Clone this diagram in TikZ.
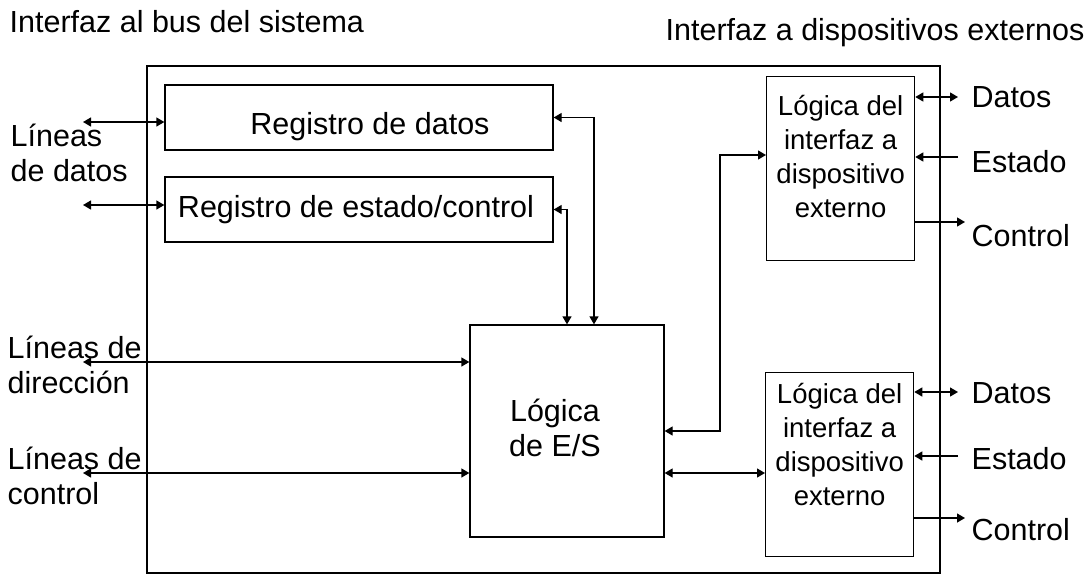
\documentclass[tikz,border=0pt]{standalone}
\usepackage{fontspec}
\setmainfont{Liberation Sans}
\usetikzlibrary{arrows.meta,positioning}

\begin{document}
\begin{tikzpicture}[
  x=1pt, y=-1pt,
  line width=1.3pt,
  >={Triangle[length=8pt,width=9pt]},
  box/.style={rectangle, draw, inner sep=0pt, align=center, font=\fontsize{30.5}{35}\selectfont},
  devbox/.style={rectangle, draw, inner sep=0pt, minimum width=148, minimum height=184},
  devtxt/.style={inner sep=0pt, anchor=north, align=center, font=\fontsize{27.5}{34}\selectfont},
  intxt/.style={inner sep=0pt, align=center, font=\fontsize{30.5}{35}\selectfont},
  lbl/.style={inner sep=0pt, anchor=west, align=left, font=\fontsize{30.5}{35}\selectfont}
]
\useasboundingbox (0,0) rectangle (1090,579);

% outer module
\node[draw, minimum width=793, minimum height=507] (iface) at (543.5,319.5) {};

% registers and E/S logic
\node[box, minimum width=388, minimum height=65,
  label={[intxt, xshift=11pt, yshift=-9pt]center:Registro de datos}] (regdat) at (359,117.5) {};
\node[box, minimum width=388, minimum height=65,
  label={[intxt, xshift=-3pt]center:Registro de estado/control}] (regest) at (359,209.5) {};
\node[box, minimum width=194, minimum height=212,
  label={[intxt, xshift=-12pt, yshift=3pt]center:Lógica\\de E/S}] (es) at (567,431) {};

% device interface logic
\node[devbox, anchor=north west,
  label={[devtxt, yshift=-19pt]north:Lógica del\\interfaz a\\dispositivo\\externo}] (devA) at (766,76) {};
\node[devbox, anchor=north west,
  label={[devtxt, yshift=-11pt]north:Lógica del\\interfaz a\\dispositivo\\externo}] (devB) at (765,372) {};

% titles
\node[lbl] (tbus) at (9,22) {Interfaz al bus del sistema};
\node[lbl] (tdev) at (665,33) {Interfaz a dispositivos externos};

% bus side labels
\node[lbl] (ldat) at (10,153) {Líneas\\de datos};
\node[lbl] (ldir) at (7,365) {Líneas de\\dirección};
\node[lbl] (lctl) at (7,476) {Líneas de\\control};

% bus side connectors
\coordinate (bdat) at (83,122);
\coordinate (best) at (83,205);
\coordinate (bdir) at (83,362);
\coordinate (bctl) at (83,473);
\draw[<->] (bdat) -- (bdat -| regdat.west);
\draw[<->] (best) -- (best -| regest.west);
\draw[<->] (bdir) -- (bdir -| es.west);
\draw[<->] (bctl) -- (bctl -| es.west);

% registers to E/S logic
\coordinate (cdat) at (594,0);
\draw[<->] (regdat.east) -| (cdat |- es.north);
\draw[<->] (regest.east) -| (es.north);

% E/S logic to devices
\coordinate (cA) at (720,155);
\coordinate (cB) at (720,473);
\draw[<->] (es.east) -| (cA) -- (cA -| devA.west);
\draw[<->] (cB -| es.east) -- (cB -| devB.west);

% device side, upper
\coordinate (adat) at (958,97);
\coordinate (aest) at (958,157);
\coordinate (actl) at (965,222);
\draw[<->] (adat -| devA.east) -- (adat);
\draw[->] (aest) -- (aest -| devA.east);
\draw[->] (actl -| devA.east) -- (actl);
\node[lbl] (nadat) at (971,97) {Datos};
\node[lbl] (naest) at (971,162) {Estado};
\node[lbl] (nactl) at (971,236) {Control};

% device side, lower
\coordinate (bdat2) at (958,392);
\coordinate (best2) at (958,456);
\coordinate (bctl2) at (965,518);
\draw[<->] (bdat2 -| devB.east) -- (bdat2);
\draw[->] (best2) -- (best2 -| devB.east);
\draw[->] (bctl2 -| devB.east) -- (bctl2);
\node[lbl] (nbdat) at (971,393) {Datos};
\node[lbl] (nbest) at (971,459) {Estado};
\node[lbl] (nbctl) at (971,530) {Control};
\end{tikzpicture}
\end{document}
